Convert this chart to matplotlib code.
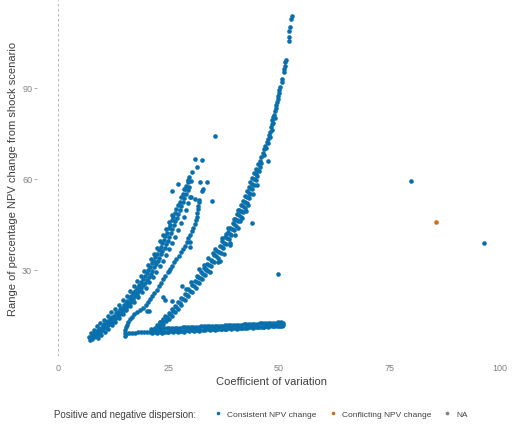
import numpy as np
import matplotlib
matplotlib.use("Agg")
import matplotlib.pyplot as plt
from matplotlib.lines import Line2D

plt.rcParams['font.family'] = ['Liberation Sans', 'DejaVu Sans']

# ---- Consistent NPV change: long flat band at low range -------------------
cv_flat = [20.7, 21.3, 21.9, 22.5, 23.1, 23.7, 24.3, 24.9, 25.5, 26.1, 26.7, 27.3,
           27.9, 28.5, 29.1, 29.7, 30.3, 30.9, 31.5, 32.1, 32.7, 33.3, 33.9, 34.5,
           35.1, 35.7, 36.3, 36.9, 37.5, 38.1, 38.7, 39.3, 39.9, 40.5, 41.1, 41.7,
           42.3, 42.9, 43.5, 44.1, 44.7, 45.3, 45.9, 46.5, 47.1, 47.7, 48.3, 48.9,
           49.5, 50.1, 50.7,
           21.0, 21.6, 22.2, 22.8, 23.4, 24.0, 24.6, 25.2, 25.8, 26.4, 27.0, 27.6,
           28.2, 28.8, 29.4, 30.0, 30.6, 31.2, 31.8, 32.4, 33.0, 33.6, 34.2, 34.8,
           35.4, 36.0, 36.6, 37.2, 37.8, 38.4, 39.0, 39.6, 40.2, 40.8, 41.4, 42.0,
           42.6, 43.2, 43.8, 44.4, 45.0, 45.6, 46.2, 46.8, 47.4, 48.0, 48.6, 49.2,
           49.8, 50.4, 50.9, 50.6, 50.8,
           21.2, 22.4, 23.6, 24.8, 26.0, 27.2, 28.4, 29.6, 30.8, 32.0, 33.2, 34.4,
           35.6, 36.8, 38.0, 39.2, 40.4, 41.6, 42.8, 44.0, 45.2, 46.4, 47.6, 48.8,
           50.0]
range_flat = [9.4, 9.5, 9.5, 9.6, 9.6, 9.7, 9.7, 9.7, 9.8, 9.8, 9.9, 9.9,
              10.0, 10.0, 10.1, 10.1, 10.1, 10.2, 10.2, 10.3, 10.3, 10.4, 10.4, 10.5,
              10.5, 10.5, 10.6, 10.6, 10.7, 10.7, 10.8, 10.8, 10.9, 10.9, 10.9, 11.0,
              11.0, 11.1, 11.1, 11.2, 11.2, 11.3, 11.3, 11.3, 11.4, 11.4, 11.5, 11.5,
              11.6, 11.6, 11.7,
              10.5, 10.6, 10.6, 10.7, 10.7, 10.8, 10.8, 10.8, 10.9, 10.9, 11.0, 11.0,
              11.1, 11.1, 11.2, 11.2, 11.2, 11.3, 11.3, 11.4, 11.4, 11.5, 11.5, 11.6,
              11.6, 11.6, 11.7, 11.7, 11.8, 11.8, 11.9, 11.9, 12.0, 12.0, 12.0, 12.1,
              12.1, 12.2, 12.2, 12.3, 12.3, 12.4, 12.4, 12.4, 12.5, 12.5, 12.6, 12.6,
              12.7, 12.7, 12.5, 12.2, 11.9,
              9.1, 9.2, 9.3, 9.4, 9.5, 9.6, 9.7, 9.8, 9.9, 10.0, 10.1, 10.2,
              10.3, 10.4, 10.5, 10.6, 10.7, 10.8, 10.9, 11.0, 11.1, 11.2, 11.3, 11.4,
              11.5]

# ---- Consistent NPV change: steep rising branch ----------------------------
cv_steep = [22.0, 22.5, 23.1, 23.7, 24.3, 25.0, 25.7, 26.4, 27.1, 27.9, 28.7, 29.5,
            30.3, 31.0, 31.7, 32.4, 33.1, 33.8, 34.5, 35.3, 36.0, 36.6, 37.2, 37.8,
            38.4, 39.0, 39.5, 40.0, 40.5, 41.0, 41.5, 41.9, 42.3, 42.7, 43.1, 43.5,
            43.9, 44.3, 44.7,
            22.6, 23.2, 23.8, 24.4, 25.0, 25.7, 26.4, 27.1, 27.9, 28.7, 29.5, 30.3,
            31.1, 31.8, 32.5, 33.2, 33.9, 34.6, 35.3, 36.1, 36.8, 37.4, 38.0, 38.6,
            39.2, 39.8, 40.3, 40.8, 41.3, 41.8, 42.3, 42.7, 43.1, 43.5, 43.9, 44.3,
            44.7, 45.1, 45.5, 45.8,
            22.3, 22.9, 23.5, 24.1, 24.7, 25.4, 26.1, 26.8, 27.5, 28.3, 29.1, 29.9,
            30.7, 31.4, 32.1, 32.8, 33.5, 34.2, 34.9, 35.7, 36.4, 37.0, 37.6, 38.2,
            38.8, 39.4, 39.9, 40.4, 40.9, 41.4, 41.9, 42.3, 42.7, 43.1, 43.5, 43.9,
            44.3, 44.7, 45.1,
            29.0, 31.5, 33.0, 34.3, 35.0, 36.2, 37.5, 38.0, 39.0, 40.0, 40.7, 41.2,
            42.5, 43.0, 44.0, 45.0,
            30.0, 32.0, 34.0, 35.5, 37.0, 38.5, 39.8, 40.8, 36.6, 38.8, 33.4, 41.6,
            45.2, 45.6, 46.0, 46.3, 46.6, 46.9, 47.2, 47.5, 47.8, 48.0, 48.1, 48.3,
            48.5, 48.7, 48.9, 49.1, 49.3, 49.4, 49.6, 49.7, 49.8, 49.9, 50.0, 50.2,
            50.6, 50.7, 51.1, 51.2, 51.3, 51.4, 51.5, 52.2, 52.3, 52.3, 52.5, 52.7,
            52.9,
            45.9, 46.5, 47.0, 47.4, 47.9, 48.3, 48.7, 49.0]
range_steep = [10.9, 11.9, 12.9, 13.8, 14.8, 15.9, 17.0, 18.2, 19.4, 20.8, 22.2, 23.6,
               25.0, 26.4, 27.8, 29.2, 30.6, 32.0, 33.4, 34.9, 36.4, 37.9, 39.4, 40.9,
               42.4, 43.9, 45.4, 46.9, 48.4, 49.9, 51.4, 52.9, 54.4, 55.9, 57.4, 58.9,
               60.4, 61.9, 63.4,
               10.4, 11.3, 12.2, 13.1, 14.0, 15.0, 16.2, 17.3, 18.6, 20.0, 21.4, 22.8,
               24.2, 25.6, 27.0, 28.4, 29.8, 31.2, 32.6, 34.1, 35.6, 37.1, 38.6, 40.1,
               41.6, 43.1, 44.6, 46.1, 47.6, 49.1, 50.6, 52.1, 53.6, 55.1, 56.6, 58.1,
               59.6, 61.1, 62.6, 64.0,
               10.7, 11.6, 12.6, 13.5, 14.4, 15.5, 16.6, 17.8, 19.0, 20.4, 21.8, 23.2,
               24.6, 26.0, 27.4, 28.8, 30.2, 31.6, 33.0, 34.5, 36.0, 37.5, 39.0, 40.5,
               42.0, 43.5, 45.0, 46.5, 48.0, 49.5, 51.0, 52.5, 54.0, 55.5, 57.0, 58.5,
               60.0, 61.5, 63.0,
               23.8, 27.9, 31.8, 29.5, 35.5, 32.8, 35.2, 41.8, 39.0, 41.5, 44.0, 46.0,
               49.5, 51.3, 55.0, 58.0,
               26.0, 30.2, 33.8, 37.0, 40.4, 44.0, 46.9, 49.8, 33.0, 38.2, 29.9, 47.3,
               64.8, 66.0, 67.2, 68.5, 69.8, 71.0, 72.1, 73.3, 74.5, 75.6, 77.0, 78.2,
               79.3, 80.3, 81.2, 82.3, 83.4, 84.4, 85.4, 86.4, 87.4, 88.3, 89.2, 90.2,
               91.9, 93.0, 95.4, 96.4, 97.4, 98.4, 99.2, 105.6, 106.7, 108.9, 110.0, 112.8,
               113.8,
               65.3, 67.9, 70.2, 71.9, 73.9, 76.2, 78.5, 80.0]

# ---- Consistent NPV change: loop and middle branch -------------------------
cv_loop = [15.1, 15.1, 15.2, 15.3, 15.5, 15.8, 16.2, 16.7, 17.3, 17.9, 18.6, 19.3,
           19.9, 20.4, 20.9, 21.3, 21.8, 22.3, 22.8, 23.3, 23.8, 24.3, 24.8, 25.3,
           25.8, 26.3, 26.8, 27.3, 27.8, 28.3, 28.7, 29.1, 29.5, 29.9, 30.3, 30.6,
           30.9, 31.2, 31.4, 31.5, 31.6, 31.7, 31.8, 31.9,
           15.4, 16.0, 16.7, 17.4, 18.1, 18.8, 19.5, 20.1]
range_loop = [8.4, 9.3, 10.2, 11.1, 12.0, 12.9, 13.8, 14.6, 15.4, 16.1, 16.8, 17.6,
              18.4, 19.3, 20.3, 21.3, 22.4, 23.5, 24.6, 25.8, 27.0, 28.1, 29.2, 30.3,
              31.4, 32.5, 33.6, 34.7, 35.8, 36.9, 38.0, 39.2, 40.4, 41.6, 42.8, 44.0,
              45.2, 46.4, 47.6, 48.8, 50.0, 51.2, 52.3, 53.2,
              8.9, 9.1, 9.2, 9.3, 9.4, 9.5, 9.6, 9.7]

# ---- Consistent NPV change: wide diagonal band -----------------------------
cv_wide = [7.3, 7.8, 8.2, 7.6, 8.5, 8.0, 8.9, 8.4, 9.2, 8.8, 9.6, 9.3, 10.0, 9.7, 10.5,
           10.1, 10.9, 10.5, 11.3, 11.0, 11.7, 11.4, 12.2, 11.8, 12.6, 12.2, 13.1,
           12.7, 13.5, 13.1, 14.0, 13.6, 14.4, 14.0, 14.9, 14.4, 15.3, 14.9, 15.8,
           15.3, 16.2, 15.7, 16.6, 16.2, 17.0, 16.6, 17.5, 17.0, 17.9, 17.5, 18.4,
           17.9, 18.8, 18.4, 19.2, 18.7, 19.6, 19.2, 20.1, 19.6, 20.5, 20.1, 21.0,
           20.4, 21.3, 20.9, 21.8, 21.2, 22.1, 21.7, 22.6, 22.0, 22.9, 22.5, 23.4,
           22.8, 23.6, 23.2, 24.1, 23.5, 24.4, 24.0, 24.9, 24.2, 25.1, 24.7, 25.6,
           25.0, 25.8, 25.4, 26.3, 25.7, 26.5, 26.1, 27.0, 26.4, 27.2, 26.8, 27.7,
           27.1, 27.9, 27.5, 28.3, 27.8, 28.6, 28.2, 29.0, 28.5, 29.3, 29.0, 29.7,
           29.3, 30.0, 29.6,
           7.0, 7.5, 8.2, 8.9, 9.6, 10.4, 11.2, 12.0, 12.9, 13.8, 14.6, 15.5,
           16.3, 17.1, 17.9, 18.7, 19.5, 20.3, 21.0, 21.7, 22.4, 23.1, 23.8, 24.5,
           25.2, 25.8,
           9.0, 9.8, 10.6, 11.4, 12.2, 13.0, 13.8, 14.6, 15.4, 16.3, 17.2, 18.1,
           19.0, 19.8, 20.6, 21.4, 22.2, 23.0, 23.7, 24.4, 25.1, 25.8, 26.5, 27.2,
           27.8, 28.4, 29.0, 29.5, 30.0]
range_wide = [7.0, 7.4, 7.9, 8.3, 8.1, 8.8, 8.6, 9.4, 9.1, 9.9, 9.6, 10.5, 10.2, 11.0, 10.8,
              11.6, 11.3, 12.1, 11.9, 12.7, 12.4, 13.2, 13.0, 13.8, 13.6, 14.4, 14.2,
              15.0, 14.8, 15.7, 15.5, 16.3, 16.1, 17.0, 16.9, 17.6, 17.5, 18.4, 18.3,
              19.1, 19.0, 19.9, 19.8, 20.7, 20.5, 21.5, 21.4, 22.4, 22.2, 23.2, 23.1,
              24.2, 24.0, 25.0, 24.9, 26.0, 25.8, 26.9, 26.8, 28.0, 27.7, 28.9, 28.7,
              30.0, 29.8, 31.0, 30.9, 32.2, 32.0, 33.1, 33.0, 34.3, 34.1, 35.3, 35.2,
              36.5, 36.2, 37.5, 37.4, 38.8, 38.5, 39.8, 39.7, 41.2, 41.0, 42.3, 42.1,
              43.8, 43.5, 44.9, 44.7, 46.4, 46.1, 47.4, 47.2, 48.9, 48.6, 50.0, 49.8,
              51.5, 51.2, 52.5, 52.3, 54.0, 53.7, 55.1, 54.9, 56.7, 56.3, 57.8, 57.5,
              59.6, 59.2, 60.8,
              8.0, 9.2, 10.3, 11.4, 12.5, 13.6, 14.8, 16.0, 17.3, 18.6, 20.0, 21.5,
              23.0, 24.6, 26.3, 28.0, 29.8, 31.6, 33.5, 35.4, 37.4, 39.4, 41.5, 43.6,
              45.8, 48.0,
              7.6, 8.6, 9.6, 10.7, 11.8, 13.0, 14.2, 15.5, 16.8, 18.2, 19.6, 21.0,
              22.6, 24.2, 25.9, 27.6, 29.4, 31.2, 33.1, 35.0, 37.0, 39.0, 41.0, 43.2,
              45.4, 47.6, 49.8, 52.0, 54.2]

# ---- Consistent NPV change: scattered points -------------------------------
cv_spread = [30.2, 31.0, 32.5, 31.4, 32.1, 33.6, 29.5, 27.2, 32.9, 32.5, 34.8, 25.7,
             28.7, 29.9, 31.0, 20.1, 20.5, 23.8, 24.3, 25.7, 28.0, 25.2, 29.9, 29.9,
             23.1, 23.6, 35.6, 47.6, 43.8, 49.8, 79.9, 96.3]
range_spread = [62.2, 66.6, 66.4, 63.9, 58.9, 58.9, 58.9, 58.4, 56.7, 56.1, 52.9, 56.1,
                56.7, 54.0, 53.4, 16.6, 16.4, 21.0, 20.1, 19.9, 24.8, 29.8, 37.5, 39.3,
                12.8, 13.3, 74.3, 66.0, 45.5, 28.7, 59.3, 38.9]

# ---- Conflicting NPV change -------------------------------------------------
cv_conflict = [85.4]
range_conflict = [45.7]

colors = {"Consistent NPV change": "#0A70AD",
          "Conflicting NPV change": "#CF6F1D",
          "NA": "#7F7F7F"}

cv_consistent = np.concatenate([cv_flat, cv_steep, cv_loop, cv_wide, cv_spread])
range_consistent = np.concatenate([range_flat, range_steep, range_loop, range_wide, range_spread])

fig = plt.figure(figsize=(5.12, 4.27), dpi=100)
ax = fig.add_axes([37 / 512, 70 / 427, 468 / 512, 356 / 427])

ax.axvline(0, color="#a8a8a8", lw=0.6, ls=(0, (3, 3)), zorder=0)
ax.scatter(cv_consistent, range_consistent, s=11, c=colors["Consistent NPV change"],
           linewidths=0, zorder=2)
ax.scatter(cv_conflict, range_conflict, s=11, c=colors["Conflicting NPV change"],
           linewidths=0, zorder=2)

ax.set_xlim(-4.75, 101.1)
ax.set_ylim(1.65, 119.0)
ax.set_xticks([0, 25, 50, 75, 100])
ax.set_yticks([30, 60, 90])
for s in ax.spines.values():
    s.set_visible(False)
ax.tick_params(axis="y", length=2.5, width=0.6, color="#9a9a9a",
               labelcolor="#808080", labelsize=6.5, pad=1)
ax.tick_params(axis="x", length=0, labelcolor="#808080", labelsize=6.5, pad=5)
ax.set_xlabel("Coefficient of variation", fontsize=8, color="#404040", labelpad=3)
ax.set_ylabel("Range of percentage NPV change from shock scenario", fontsize=8,
              color="#404040", labelpad=3)

fig.text(54 / 512, 12 / 427, "Positive and negative dispersion:", fontsize=7,
         color="#404040", va="center", ha="left")
handles = [Line2D([], [], ls="none", marker="o", ms=2.6, mew=0, color=c)
           for c in colors.values()]
fig.legend(handles, list(colors.keys()), loc="center left",
           bbox_to_anchor=(214 / 512, 12 / 427), ncol=3, frameon=False,
           fontsize=6, handlelength=1.0, handletextpad=0.6, columnspacing=1.4,
           borderpad=0, borderaxespad=0, labelcolor="#404040")

fig.savefig("out.png", dpi=100)
